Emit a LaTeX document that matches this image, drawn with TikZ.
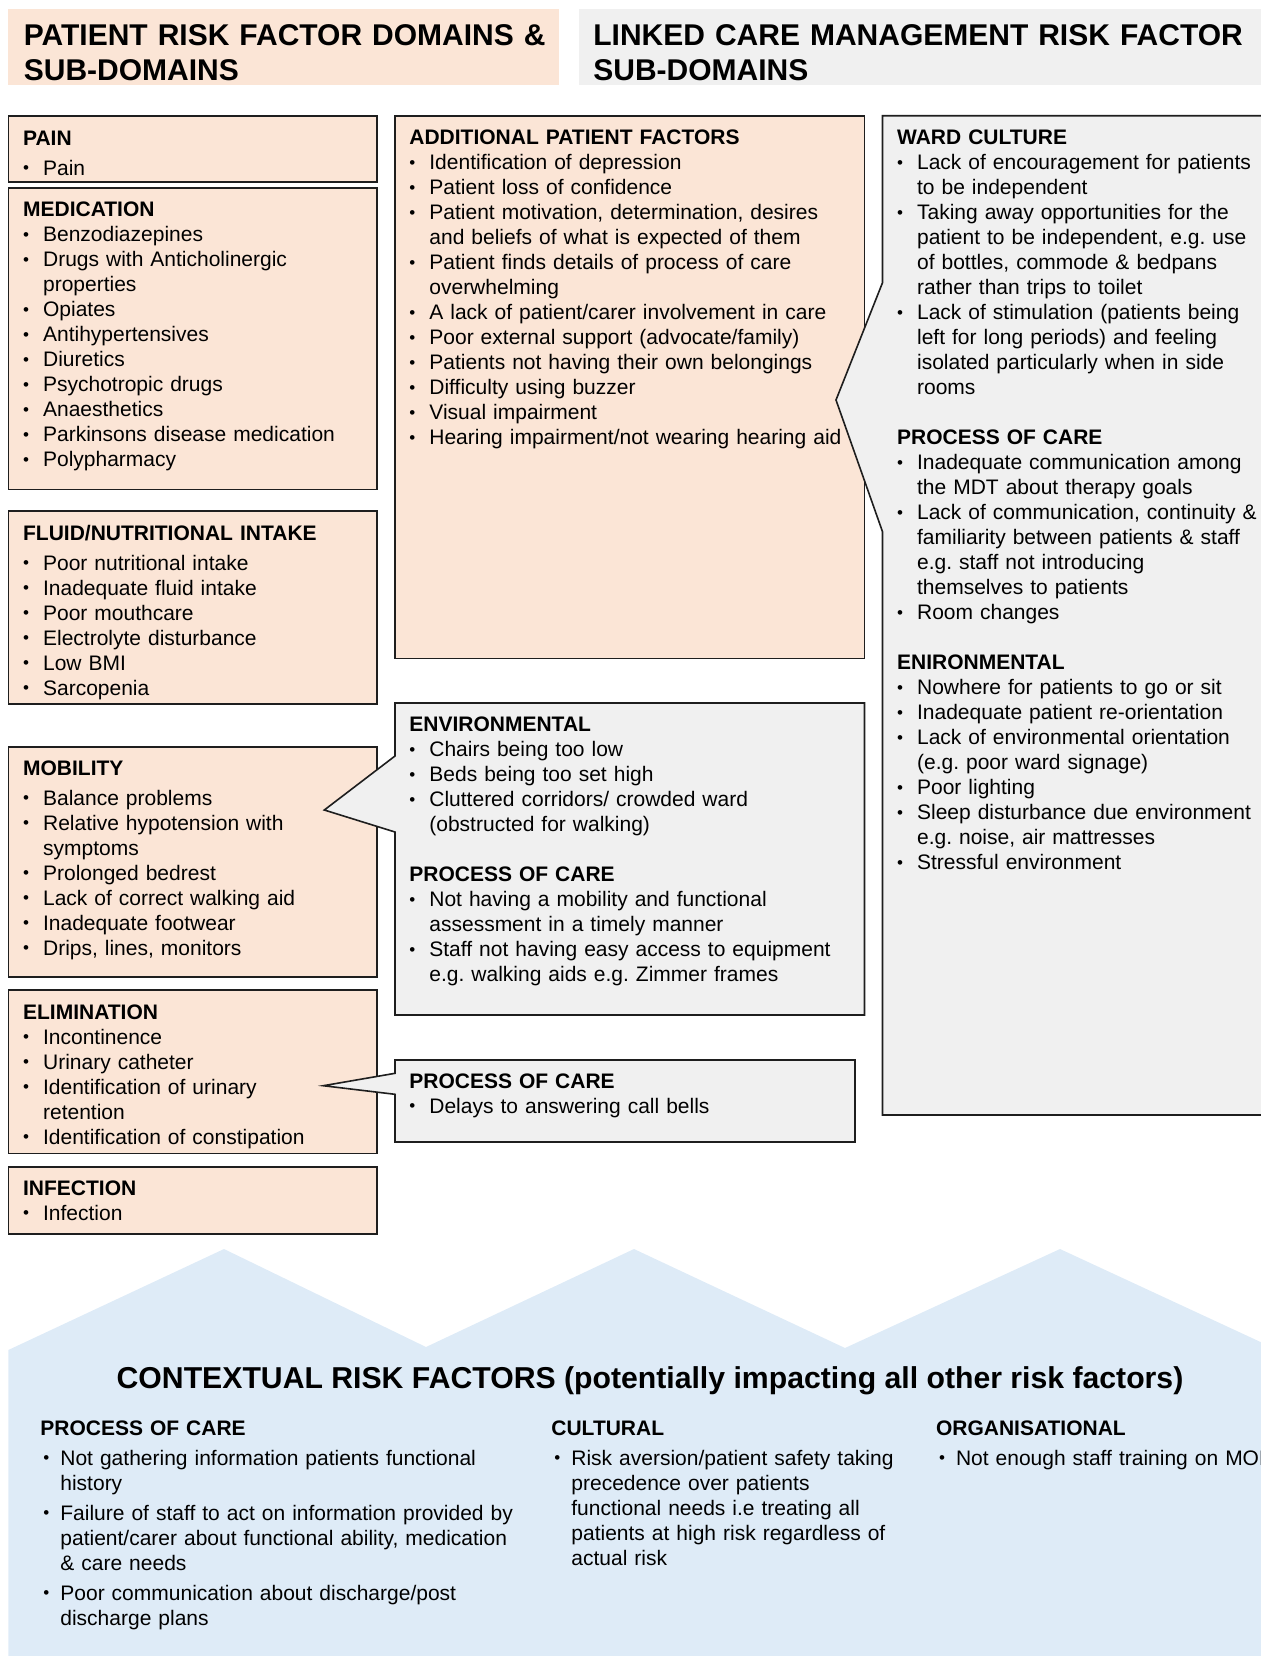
\documentclass[tikz,border=0pt]{standalone}
\usepackage{fontspec}
\setmainfont{Liberation Sans}

\definecolor{peach}{HTML}{FBE5D6}
\definecolor{lightgrey}{HTML}{F0F0F0}
\definecolor{paleblue}{HTML}{DEEBF7}
\definecolor{edge}{HTML}{1E1E1E}

\newcommand{\dotmark}{\raisebox{0.6pt}{\fontsize{8.5}{8.5}\selectfont\textbullet}}
\newcommand{\itm}[2][0pt]{\par\vspace{#1}\hangindent=10pt\hangafter=1\makebox[10pt][l]{\dotmark}#2}
\newcommand{\citm}[2][0pt]{\par\vspace{#1}\hangindent=10pt\hangafter=1\makebox[10pt][l]{\hspace{1.5pt}\dotmark}#2}
\newcommand{\hd}[1]{\textbf{#1}}
\newcommand{\blankline}{\par\vspace{12.5pt}}

\begin{document}
\frenchspacing
\begin{tikzpicture}[x=0.5pt,y=-0.5pt,
    every node/.style={inner sep=0pt},
    pbox/.style={draw=edge, line width=0.8pt, fill=peach},
    gbox/.style={draw=edge, line width=0.8pt, fill=lightgrey},
    txt/.style={anchor=base west, text width=250pt, align=left, font=\fontsize{10.5}{12.5}\selectfont},
    hdr/.style={anchor=base west, text width=340pt, align=left, font=\fontsize{15}{17.5}\selectfont\bfseries}]

    \useasboundingbox (0,0) rectangle (1261,1656);

    % header bars
    \fill[peach] (8,8.5) rectangle (559,84.5);
    \fill[lightgrey] (579,8.5) rectangle (1261,84.5);
    \node[hdr] (hleft) at (23.5,45.5) {PATIENT RISK FACTOR DOMAINS \&\newline SUB-DOMAINS};
    \node[hdr] (hright) at (593,45.5) {LINKED CARE MANAGEMENT RISK FACTOR\newline SUB-DOMAINS};

    % patient boxes
    \draw[pbox] (8.3,115.7) rectangle (376.7,181.7);
    \draw[pbox] (8.3,187.7) rectangle (376.7,489.3);
    \draw[pbox] (8.3,510.7) rectangle (376.7,704);
    \draw[pbox] (8.3,746.7) rectangle (376.7,976.7);
    \draw[pbox] (8.3,990) rectangle (376.7,1153.3);
    \draw[pbox] (8.3,1166.7) rectangle (376.7,1234);
    \draw[pbox] (395,115.7) rectangle (864.5,658.3);

    % care management callouts
    \coordinate (envtip) at (324.3,810);
    \coordinate (poctip) at (323.3,1085.7);
    \coordinate (wardtip) at (836,400);
    \draw[gbox] (395,703) -- (864.5,703) -- (864.5,1015) -- (395,1015)
        -- (395,832) -- (envtip) -- (395,756) -- cycle;
    \draw[gbox] (395,1060) -- (855,1060) -- (855,1142) -- (395,1142)
        -- (395,1094.3) -- (poctip) -- (395,1073.3) -- cycle;
    \draw[gbox] (882.5,115.7) -- (1280,115.7) -- (1280,1115) -- (882.5,1115)
        -- (882.5,531.7) -- (wardtip) -- (882.5,282.7) -- cycle;

    % contextual band
    \fill[paleblue] (8.3,1350) -- (224,1249) -- (426,1347) -- (634,1249) -- (845,1348)
        -- (1060,1249) -- (1280,1351) -- (1280,1660) -- (8.3,1660) -- cycle;

    % texts
    \node[txt] (paintxt) at (22.7,145) {\hd{PAIN}\itm[2.5pt]{Pain}\par};
    \node[txt] (medtxt) at (22.7,216.7) {\hd{MEDICATION}
        \itm{Benzodiazepines}
        \itm{Drugs with Anticholinergic\newline properties}
        \itm{Opiates}
        \itm{Antihypertensives}
        \itm{Diuretics}
        \itm{Psychotropic drugs}
        \itm{Anaesthetics}
        \itm{Parkinsons disease medication}
        \itm{Polypharmacy}\par};
    \node[txt] (fluidtxt) at (22.7,540) {\hd{FLUID/NUTRITIONAL INTAKE}
        \itm[2.5pt]{Poor nutritional intake}
        \itm{Inadequate fluid intake}
        \itm{Poor mouthcare}
        \itm{Electrolyte disturbance}
        \itm{Low BMI}
        \itm{Sarcopenia}\par};
    \node[txt] (mobtxt) at (22.7,775.7) {\hd{MOBILITY}
        \itm[2.2pt]{Balance problems}
        \itm{Relative hypotension with\newline symptoms}
        \itm{Prolonged bedrest}
        \itm{Lack of correct walking aid}
        \itm{Inadequate footwear}
        \itm{Drips, lines, monitors}\par};
    \node[txt] (elimtxt) at (22.7,1019) {\hd{ELIMINATION}
        \itm{Incontinence}
        \itm{Urinary catheter}
        \itm{Identification of urinary\newline retention}
        \itm{Identification of constipation}\par};
    \node[txt] (inftxt) at (22.7,1195) {\hd{INFECTION}\itm{Infection}\par};

    \node[txt] (addtxt) at (409,144.8) {\hd{ADDITIONAL PATIENT FACTORS}
        \itm{Identification of depression}
        \itm{Patient loss of confidence}
        \itm{Patient motivation, determination, desires\newline and beliefs of what is expected of them}
        \itm{Patient finds details of process of care\newline overwhelming}
        \itm{A lack of patient/carer involvement in care}
        \itm{Poor external support (advocate/family)}
        \itm{Patients not having their own belongings}
        \itm{Difficulty using buzzer}
        \itm{Visual impairment}
        \itm{Hearing impairment/not wearing hearing aid}\par};
    \node[txt] (envtxt) at (409,731.9) {\hd{ENVIRONMENTAL}
        \itm{Chairs being too low}
        \itm{Beds being too set high}
        \itm{Cluttered corridors/ crowded ward\newline (obstructed for walking)}
        \blankline\hd{PROCESS OF CARE}
        \itm{Not having a mobility and functional\newline assessment in a timely manner}
        \itm{Staff not having easy access to equipment\newline e.g. walking aids e.g. Zimmer frames}\par};
    \node[txt] (poctxt) at (409,1088) {\hd{PROCESS OF CARE}
        \itm{Delays to answering call bells}\par};
    \node[txt] (wardtxt) at (896.7,144.8) {\hd{WARD CULTURE}
        \itm{Lack of encouragement for patients\newline to be independent}
        \itm{Taking away opportunities for the\newline patient to be independent, e.g. use\newline of bottles, commode \& bedpans\newline rather than trips to toilet}
        \itm{Lack of stimulation (patients being\newline left for long periods) and feeling\newline isolated particularly when in side\newline rooms}
        \blankline\hd{PROCESS OF CARE}
        \itm{Inadequate communication among\newline the MDT about therapy goals}
        \itm{Lack of communication, continuity \&\newline familiarity between patients \& staff\newline e.g. staff not introducing\newline themselves to patients}
        \itm{Room changes}
        \blankline\hd{ENIRONMENTAL}
        \itm{Nowhere for patients to go or sit}
        \itm{Inadequate patient re-orientation}
        \itm{Lack of environmental orientation\newline (e.g. poor ward signage)}
        \itm{Poor lighting}
        \itm{Sleep disturbance due environment\newline e.g. noise, air mattresses}
        \itm{Stressful environment}\par};

    % contextual risk factors
    \node[anchor=base, font=\fontsize{15.1}{18}\selectfont\bfseries] (ctitle) at (650,1388)
        {CONTEXTUAL RISK FACTORS (potentially impacting all other risk factors)};
    \node[txt] (cpoc) at (40,1435.7) {\hd{PROCESS OF CARE}
        \citm[2.2pt]{Not gathering information patients functional\newline history}
        \citm[2.5pt]{Failure of staff to act on information provided by\newline patient/carer about functional ability, medication\newline \& care needs}
        \citm[2.5pt]{Poor communication about discharge/post\newline discharge plans}\par};
    \node[txt] (ccult) at (551,1435.7) {\hd{CULTURAL}
        \citm[2.2pt]{Risk aversion/patient safety taking\newline precedence over patients\newline functional needs i.e treating all\newline patients at high risk regardless of\newline actual risk}\par};
    \node[txt] (corg) at (935.6,1435.7) {\hd{ORGANISATIONAL}
        \citm[2.2pt]{Not enough staff training on MOF}\par};

\end{tikzpicture}
\end{document}
